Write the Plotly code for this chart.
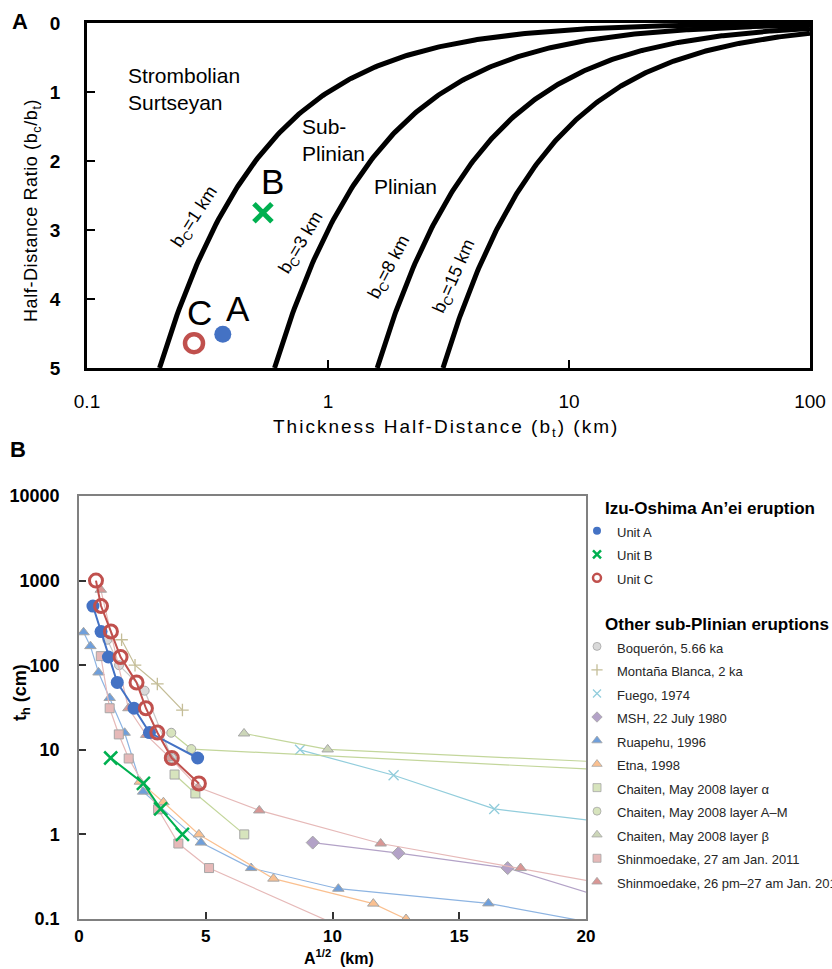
import numpy as np
import plotly.graph_objects as go

W, H = 832, 969

# ---------------- Panel A data ----------------
bc_values = [1, 3, 8, 15]                       # clast half-distance (km)
bc_labels = ['b<sub>C</sub>=1 km', 'b<sub>C</sub>=3 km', 'b<sub>C</sub>=8 km', 'b<sub>C</sub>=15 km']
ratio_max = 5
bt_max = 100

unit_names = ['A', 'B', 'C']
unit_bt = [0.366, 0.537, 0.278]                 # thickness half-distance (km)
unit_ratio = [4.51, 2.75, 4.64]                 # bc/bt

# ---------------- Panel B data ----------------
unitA_x = [0.55, 0.87, 1.16, 1.51, 2.17, 2.78, 4.68]
unitA_y = [500, 250, 125, 62.5, 31, 16, 8]
unitB_x = [1.25, 2.54, 3.22, 4.08]
unitB_y = [8, 4, 2, 1]
unitC_x = [0.67, 0.87, 1.26, 1.64, 2.27, 2.64, 3.09, 3.66, 4.73]
unitC_y = [1000, 500, 250, 125, 62.5, 31, 16, 8, 4]

boq_x = [1.12, 1.58, 2.59, 3.66]
boq_y = [200, 100, 50, 8]
mb_x = [1.68, 2.21, 3.09, 4.08]
mb_y = [200, 100, 60, 29.5]
fuego_x = [8.72, 12.41, 16.38, 24.0]
fuego_y = [10, 5, 2, 1.07]
msh_x = [9.22, 12.6, 16.91, 22.0]
msh_y = [0.8, 0.6, 0.4, 0.136]
ruap_x = [0.18, 0.45, 0.77, 1.21, 1.80, 2.53, 4.81, 6.79, 10.23, 16.15, 21.0]
ruap_y = [245, 168, 82, 41, 15.9, 3.2, 0.8, 0.4, 0.228, 0.153, 0.082]
etna_x = [2.4, 3.33, 4.73, 7.67, 11.61, 12.9]
etna_y = [4.2, 2.4, 1.0, 0.30, 0.152, 0.1]
chA_x = [3.77, 4.59, 6.52]
chA_y = [5.1, 3.05, 1.0]
chAM_x = [3.64, 4.43, 25.0]
chAM_y = [15.9, 10.2, 5.0]
chB_x = [6.51, 9.81, 25.0]
chB_y = [15.6, 10.1, 6.25]
shin27_x = [0.86, 1.21, 1.57, 1.96, 3.12, 3.92, 5.13, 11.0]
shin27_y = [128, 31, 15.2, 7.9, 1.98, 0.78, 0.40, 0.066]
shin26_x = [0.86, 1.95, 2.65, 3.6, 4.7, 7.11, 11.9, 17.42, 22.0]
shin26_y = [780, 31, 15, 8, 3.6, 1.92, 0.78, 0.40, 0.224]

izu_names = ['Unit A', 'Unit B', 'Unit C']
other_names = ['Boquerón, 5.66 ka', 'Montaña Blanca, 2 ka', 'Fuego, 1974', 'MSH, 22 July 1980',
               'Ruapehu, 1996', 'Etna, 1998', 'Chaiten, May 2008 layer α',
               'Chaiten, May 2008 layer A–M', 'Chaiten, May 2008 layer β',
               'Shinmoedake, 27 am Jan. 2011', 'Shinmoedake, 26 pm–27 am Jan. 2011']

# ---------------- helpers ----------------
def px(x):
    return x / W

def py(y):
    return 1 - y / H

NARROW = 'Liberation Sans Narrow, Arial Narrow, Liberation Sans, Arial, sans-serif'
SANS = 'Liberation Sans, Arial, sans-serif'
OUT = '#A6A6A6'

fig = go.Figure()

# ---------------- Panel A traces ----------------
for bc in bc_values:
    bt = np.logspace(np.log10(bc / ratio_max), np.log10(bt_max), 300)
    fig.add_trace(go.Scatter(x=bt, y=bc / bt, mode='lines', line=dict(color='black', width=5),
                             showlegend=False, xaxis='x', yaxis='y', hoverinfo='skip'))

symA = [dict(symbol='circle', color='#4472C4', size=17, line=dict(width=0)),
        dict(symbol='x-thin', color='#00B050', size=18, line=dict(width=5, color='#00B050')),
        dict(symbol='circle-open', color='#C0504D', size=18, line=dict(width=4.5, color='#C0504D'))]
for i in range(3):
    fig.add_trace(go.Scatter(x=[unit_bt[i]], y=[unit_ratio[i]], mode='markers', marker=symA[i],
                             showlegend=False, xaxis='x', yaxis='y'))

# ---------------- Panel B traces ----------------
others = [
    (boq_x, boq_y, 'circle', '#D9D9D9', '#C8C8C8', 9),
    (mb_x, mb_y, 'cross-thin', '#C4BD97', '#C4BD97', 9),
    (fuego_x, fuego_y, 'x-thin', '#92CDDC', '#92CDDC', 10),
    (msh_x, msh_y, 'diamond', '#B3A2C7', '#B3A2C7', 10),
    (ruap_x, ruap_y, 'triangle-up', '#6F9FDB', '#8DB4E2', 10),
    (etna_x, etna_y, 'triangle-up', '#FAC090', '#FAC090', 10),
    (chA_x, chA_y, 'square', '#D7E4BD', '#C3D69B', 9),
    (chAM_x, chAM_y, 'circle', '#D7E4BD', '#C3D69B', 9),
    (chB_x, chB_y, 'triangle-up', '#CCD6B8', '#C3D69B', 10),
    (shin27_x, shin27_y, 'square', '#E6B9B8', '#E6B9B8', 9),
    (shin26_x, shin26_y, 'triangle-up', '#D99694', '#E6B9B8', 10),
]
for xs, ys, sym, fill, lc, sz in others:
    if sym in ('cross-thin', 'x-thin'):
        mk = dict(symbol=sym, size=sz, color=fill, line=dict(width=1.3, color=fill))
    else:
        mk = dict(symbol=sym, size=sz, color=fill, line=dict(width=1, color=OUT))
    fig.add_trace(go.Scatter(x=xs, y=ys, mode='lines+markers', line=dict(color=lc, width=1.2),
                             marker=mk, showlegend=False, xaxis='x2', yaxis='y2', hoverinfo='skip'))

units = [
    (unitA_x, unitA_y, dict(symbol='circle', size=13, color='#4472C4', line=dict(width=0)), '#4472C4'),
    (unitB_x, unitB_y, dict(symbol='x-thin', size=13, color='#00B050', line=dict(width=2.5, color='#00B050')), '#00B050'),
    (unitC_x, unitC_y, dict(symbol='circle-open', size=13, color='#C0504D', line=dict(width=3, color='#C0504D')), '#C0504D'),
]
for xs, ys, mk, lc in units:
    fig.add_trace(go.Scatter(x=xs, y=ys, mode='lines+markers', line=dict(color=lc, width=2),
                             marker=mk, showlegend=False, xaxis='x2', yaxis='y2'))

# ---------------- legend entries (marker only) ----------------
def leg_name(s):
    return "<span style='font-size:13px'>" + s + "</span>"

leg_units = [
    dict(symbol='circle', size=8, color='#4472C4', line=dict(width=0)),
    dict(symbol='x-thin', size=8, color='#00B050', line=dict(width=2.5, color='#00B050')),
    dict(symbol='circle-open', size=8, color='#C0504D', line=dict(width=2.5, color='#C0504D')),
]
for name, mk in zip(izu_names, leg_units):
    fig.add_trace(go.Scatter(x=[None], y=[None], mode='markers', marker=mk, name=leg_name(name),
                             legendgroup='izu', xaxis='x2', yaxis='y2'))
for name, (xs, ys, sym, fill, lc, sz) in zip(other_names, others):
    if sym in ('cross-thin', 'x-thin'):
        mk = dict(symbol=sym, size=8, color=fill, line=dict(width=1.3, color=fill))
    else:
        mk = dict(symbol=sym, size=8 if sym != 'triangle-up' else 9, color=fill, line=dict(width=0.8, color=OUT))
    fig.add_trace(go.Scatter(x=[None], y=[None], mode='markers', marker=mk, name=leg_name(name),
                             legendgroup='other', xaxis='x2', yaxis='y2'))

# ---------------- annotations ----------------
ann = []

def pa(text, x, y, size, angle=0, xa='center', ya='middle'):
    return dict(text=text, x=px(x), y=py(y), xref='paper', yref='paper', showarrow=False,
                textangle=angle, xanchor=xa, yanchor=ya,
                font=dict(family=SANS, size=size, color='black'))

# panel letters
ann.append(pa('<b>A</b>', 20, 22, 22))
ann.append(pa('<b>B</b>', 18, 449, 22))
# axis titles panel A (letter-spaced as in the original)
ann.append(pa("<span style='letter-spacing:0.6px'>Half-Distance Ratio (b<sub>c</sub>/b<sub>t</sub>)</span>",
              32, 211, 18, angle=-90))
ann.append(pa("<span style='letter-spacing:2px'>Thickness Half-Distance (b<sub>t</sub>) (km)</span>",
              446, 428, 19))
# axis titles panel B
ann.append(pa('<b>t<sub>h</sub> (cm)</b>', 21, 693, 18, angle=-90))
ann.append(pa('<b>A<sup>1/2</sup>  (km)</b>', 339, 969, 16, ya='bottom'))
# legend group titles
ann.append(pa('<b>Izu-Oshima An’ei eruption</b>', 603, 508, 17, xa='left'))
ann.append(pa('<b>Other sub-Plinian eruptions</b>', 603, 624, 17, xa='left'))

# panel A region labels (data coords; log axis uses log10)
def da(text, x, y, size, angle=0, xa='center'):
    return dict(text=text, x=np.log10(x), y=y, xref='x', yref='y', textangle=angle, showarrow=False,
                xanchor=xa, yanchor='middle', align='left',
                font=dict(family=SANS, size=size, color='black'))

ann.append(da('Strombolian<br>Surtseyan', 0.145, 0.96, 21, xa='left'))
ann.append(da('Sub-<br>Plinian', 0.765, 1.70, 21, xa='left'))
ann.append(da('Plinian', 1.52, 2.37, 21, xa='left'))
lab_pos = [(0.283, 2.81, -57), (0.78, 3.18, -59), (1.81, 3.55, -62), (3.37, 3.68, -66)]
for lab, (lx, ly, ang) in zip(bc_labels, lab_pos):
    ann.append(da(lab, lx, ly, 18, angle=ang))
letter_pos = [(0.423, 4.14), (0.586, 2.30), (0.292, 4.20)]
for name, (lx, ly) in zip(unit_names, letter_pos):
    ann.append(da(name, lx, ly, 35))

# ---------------- layout ----------------
fig.update_layout(
    width=W, height=H, margin=dict(l=0, r=0, t=0, b=0, autoexpand=False),
    paper_bgcolor='white', plot_bgcolor='white',
    showlegend=True,
    legend=dict(x=px(577), y=py(514), xanchor='left', yanchor='top', bgcolor='rgba(0,0,0,0)',
                font=dict(family=SANS, size=15.8, color='#262626'), traceorder='grouped',
                tracegroupgap=45, itemsizing='trace'),
    xaxis=dict(type='log', range=[-1, 2], domain=[px(87), px(810)], anchor='y',
               showline=True, mirror=True, linecolor='black', linewidth=2.5, showgrid=False, zeroline=False,
               ticks='inside', ticklen=8, tickwidth=2, tickcolor='black',
               tickvals=[0.1, 1, 10, 100], ticktext=['0.1', '1', '10', '100'],
               ticklabelstandoff=14, tickfont=dict(family=NARROW, size=19, color='black')),
    yaxis=dict(range=[5, 0], domain=[py(368), py(23)], anchor='x',
               showline=True, mirror=True, linecolor='black', linewidth=2.5, showgrid=False, zeroline=False,
               ticks='inside', ticklen=8, tickwidth=2, tickcolor='black', dtick=1,
               ticklabelstandoff=20, tickfont=dict(family=NARROW, size=19, color='black', weight='bold')),
    xaxis2=dict(range=[0, 20], domain=[px(79), px(586)], anchor='y2',
                showline=True, mirror=True, linecolor='#808080', linewidth=1.5, showgrid=False, zeroline=False,
                ticks='inside', ticklen=7, tickwidth=1.5, tickcolor='#333333', dtick=5,
                ticklabelstandoff=1, tickfont=dict(family=SANS, size=17, color='black', weight='bold')),
    yaxis2=dict(type='log', range=[-1, 4], domain=[py(919), py(496)], anchor='x2',
                showline=True, mirror=True, linecolor='#808080', linewidth=1.5, showgrid=False, zeroline=False,
                ticks='inside', ticklen=7, tickwidth=1.5, tickcolor='#333333',
                tickvals=[0.1, 1, 10, 100, 1000, 10000], ticktext=['0.1', '1', '10', '100', '1000', '10000'],
                ticklabelstandoff=14, tickfont=dict(family=SANS, size=18, color='black', weight='bold')),
    annotations=ann,
)

fig.write_html('out.html')
